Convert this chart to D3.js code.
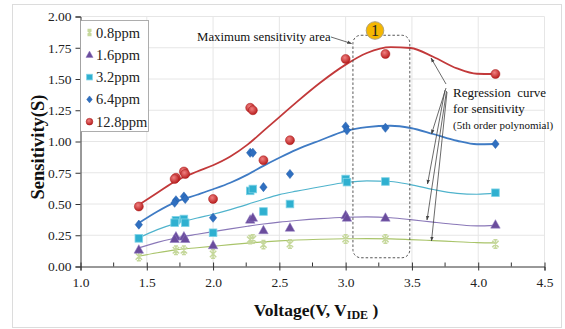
<!DOCTYPE html>
<html><head><meta charset="utf-8">
<script src="https://cdn.jsdelivr.net/npm/d3@7"></script>
<style>body{margin:0;background:#fff}svg{display:block}</style>
</head><body><svg id="c" width="565" height="329"></svg>
<script>
// ---- data ----
const seriesNames = ["0.8ppm","1.6ppm","3.2ppm","6.4ppm","12.8ppm"];
const voltage = [1.44, 1.72, 1.78, 2.0, 2.28, 2.30, 2.38, 2.58, 3.0, 3.3, 4.13];
const s08  = [0.08, 0.13, 0.13, 0.10, 0.215, 0.22, 0.175, 0.18, 0.22, 0.22, 0.18];
const s16  = [0.135, 0.24, 0.24, 0.17, 0.375, 0.39, 0.29, 0.31, 0.41, 0.39, 0.335];
const s32  = [0.225, 0.37, 0.38, 0.27, 0.605, 0.62, 0.44, 0.50, 0.70, 0.68, 0.59];
const s64  = [0.335, 0.53, 0.56, 0.39, 0.91, 0.91, 0.635, 0.74, 1.12, 1.11, 0.98];
const s128 = [0.48, 0.71, 0.76, 0.54, 1.27, 1.25, 0.85, 1.01, 1.66, 1.70, 1.54];
// repeated measurements (overlapping markers)
const voltageRep = [1.71, 1.79, 3.01];
const r08  = [null, null, null];
const r16  = [0.22, 0.22, 0.39];
const r32  = [0.35, 0.35, 0.675];
const r64  = [0.51, 0.54, 1.09];
const r128 = [0.70, 0.74, null];
// regression curves (5th order polynomial)
const fitV   = [1.44,1.58,1.72,1.88,2.0,2.13,2.26,2.38,2.5,2.63,2.81,3.0,3.16,3.34,3.49,3.66,3.84,3.99,4.13];
const fit08  = [0.082,0.11,0.133,0.15,0.162,0.175,0.187,0.197,0.205,0.212,0.218,0.222,0.223,0.221,0.215,0.207,0.198,0.191,0.189];
const fit16  = [0.149,0.193,0.228,0.258,0.279,0.301,0.322,0.34,0.355,0.368,0.383,0.394,0.397,0.39,0.375,0.355,0.336,0.325,0.329];
const fit32  = [0.229,0.295,0.345,0.388,0.418,0.455,0.497,0.538,0.575,0.603,0.638,0.672,0.685,0.68,0.655,0.616,0.585,0.578,0.587];
const fit64  = [0.348,0.44,0.517,0.574,0.618,0.67,0.735,0.805,0.87,0.935,1.01,1.085,1.115,1.126,1.108,1.06,1.006,0.978,0.98];
const fit128 = [0.494,0.59,0.685,0.76,0.81,0.88,0.975,1.085,1.195,1.315,1.472,1.615,1.708,1.755,1.748,1.678,1.585,1.542,1.54];
const xTicks = [1.0,1.5,2.0,2.5,3.0,3.5,4.0,4.5];
const yTicks = [0,0.25,0.5,0.75,1.0,1.25,1.5,1.75,2.0];

const FONT = "'Liberation Serif','Times New Roman','DejaVu Serif',serif";
const svg = d3.select("#c").attr("font-family",FONT);
const x = d3.scaleLinear().domain([1.0,4.5]).range([80.5,544.5]);
const y = d3.scaleLinear().domain([0,2]).range([266.5,16.5]);

const styles = [
  {name:seriesNames[0], vals:s08, rep:r08, fit:fit08, line:"#a9c46a", lw:1.1, fill:"#c6d89c", shape:"x"},
  {name:seriesNames[1], vals:s16, rep:r16, fit:fit16, line:"#8a78b8", lw:1.1, fill:"#6a4c9c", shape:"tri"},
  {name:seriesNames[2], vals:s32, rep:r32, fit:fit32, line:"#4fb3cc", lw:1.1, fill:"#2fb0d0", shape:"sq"},
  {name:seriesNames[3], vals:s64, rep:r64, fit:fit64, line:"#3f7bc4", lw:1.8, fill:"#2f6fc0", shape:"dia"},
  {name:seriesNames[4], vals:s128, rep:r128, fit:fit128, line:"#c2393a", lw:1.8, fill:"#d02a2a", shape:"circ"}
];

// outer frame
svg.append("rect").attr("x",12.5).attr("y",4.5).attr("width",549).attr("height",323)
  .attr("fill","none").attr("stroke","#dcdcdc");

const defs = svg.append("defs");
const gr = defs.append("radialGradient").attr("id","gRed").attr("cx","40%").attr("cy","35%").attr("r","65%");
gr.append("stop").attr("offset","0%").attr("stop-color","#f08080");
gr.append("stop").attr("offset","100%").attr("stop-color","#b81e1e");
defs.append("marker").attr("id","ah").attr("viewBox","0 0 10 10").attr("refX",9).attr("refY",5)
  .attr("markerWidth",6).attr("markerHeight",6).attr("orient","auto-start-reverse")
  .append("path").attr("d","M0,1.5 L10,5 L0,8.5 Z").attr("fill","#444");

// gridlines
const grid = svg.append("g");
grid.selectAll("line.h").data(yTicks.slice(1)).join("line")
  .attr("x1",x(1.0)).attr("x2",x(4.5)).attr("y1",d=>y(d)).attr("y2",d=>y(d))
  .attr("stroke","#e6e6e6");
grid.selectAll("line.v").data(xTicks.slice(1)).join("line")
  .attr("x1",d=>x(d)).attr("x2",d=>x(d)).attr("y1",y(0)).attr("y2",y(2))
  .attr("stroke","#e6e6e6");

// axes
const yAxis = d3.axisLeft(y).tickValues(yTicks).tickFormat(d3.format(".2f")).tickSize(5).tickPadding(4);
const gy = svg.append("g").attr("transform",`translate(${x(1.0)},0)`).call(yAxis);
const xAxis = d3.axisBottom(x).tickValues(xTicks).tickFormat(d3.format(".1f")).tickSize(4).tickPadding(7);
const gx = svg.append("g").attr("transform",`translate(0,${y(0)})`).call(xAxis);
gx.selectAll("line.minor").data(d3.range(1.25,4.5,0.5)).join("line").attr("class","minor")
  .attr("x1",d=>x(d)).attr("x2",d=>x(d)).attr("y1",0).attr("y2",-4).attr("stroke","#333");
gx.selectAll(".tick line").attr("y1",-4);
[gx,gy].forEach(g=>{
  g.attr("font-family",FONT).attr("font-size",13.5);
  g.select(".domain").attr("stroke","#333");
  g.selectAll(".tick line").attr("stroke","#333");
  g.selectAll("text").attr("fill","#222");
});

// regression curves
const lineGen = d3.line().x(d=>x(d[0])).y(d=>y(d[1])).curve(d3.curveMonotoneX);
styles.forEach(s=>{
  svg.append("path").datum(fitV.map((v,i)=>[v,s.fit[i]]))
    .attr("d",lineGen).attr("fill","none").attr("stroke",s.line).attr("stroke-width",s.lw);
});

// markers
function drawMarker(g, shape, cx, cy, s, scale){
  const k = scale||1;
  if(shape==="circ"){
    g.append("circle").attr("cx",cx).attr("cy",cy).attr("r",4.5*k).attr("fill","url(#gRed)").attr("stroke","#a81c1c").attr("stroke-width",0.5);
  } else if(shape==="dia"){
    const r=4.6*k;
    g.append("path").attr("d",`M${cx},${cy-r}L${cx+r*0.8},${cy}L${cx},${cy+r}L${cx-r*0.8},${cy}Z`).attr("fill",s.fill).attr("stroke","#1f5aa8").attr("stroke-width",0.5);
  } else if(shape==="sq"){
    const r=3.8*k;
    g.append("rect").attr("x",cx-r).attr("y",cy-r).attr("width",2*r).attr("height",2*r).attr("fill",s.fill).attr("stroke","#7fd3e6").attr("stroke-width",0.8);
  } else if(shape==="tri"){
    const r=5*k;
    g.append("path").attr("d",`M${cx},${cy-r}L${cx+r*0.95},${cy+r*0.7}L${cx-r*0.95},${cy+r*0.7}Z`).attr("fill",s.fill).attr("stroke","#8f78c0").attr("stroke-width",0.5);
  } else {
    const r=3.2*k;
    g.append("path").attr("d",`M${cx-r},${cy-r}L${cx+r},${cy+r}M${cx-r},${cy+r}L${cx+r},${cy-r}M${cx},${cy-r-1}L${cx},${cy+r+1}M${cx-2},${cy-r-1}L${cx+2},${cy-r-1}M${cx-2},${cy+r+1}L${cx+2},${cy+r+1}`)
      .attr("stroke",s.fill).attr("stroke-width",1.5).attr("fill","none");
  }
}
const mg = svg.append("g");
styles.forEach(s=>{
  voltage.forEach((v,i)=>{ if(s.vals[i]!=null) drawMarker(mg,s.shape,x(v),y(s.vals[i]),s); });
  voltageRep.forEach((v,i)=>{ if(s.rep[i]!=null) drawMarker(mg,s.shape,x(v),y(s.rep[i]),s); });
});

// legend
const lg = svg.append("g");
lg.append("rect").attr("x",80.5).attr("y",20.5).attr("width",68).attr("height",111)
  .attr("fill","#fff").attr("stroke","#9a9a9a").attr("stroke-width",0.8);
styles.forEach((s,i)=>{
  const cy = 32.5 + i*22.3;
  drawMarker(lg,s.shape,89.5,cy,s,s.shape==="x"?0.6:0.75);
  lg.append("text").attr("x",96).attr("y",cy+5).text(s.name).attr("font-size",14.5).attr("fill","#222");
});

// annotation: maximum sensitivity area
const ann = svg.append("g");
ann.append("text").attr("x",197).attr("y",41).text("Maximum sensitivity area").attr("font-size",12.8).attr("fill","#111");
ann.append("path").attr("d","M331,37 L351.5,43.5").attr("stroke","#444").attr("stroke-width",0.8).attr("fill","none").attr("marker-end","url(#ah)");
ann.append("rect").attr("x",x(3.055)).attr("y",y(1.85)).attr("width",x(3.484)-x(3.055)).attr("height",y(0.07)-y(1.85))
  .attr("rx",8).attr("ry",8).attr("fill","none").attr("stroke","#444").attr("stroke-width",0.9).attr("stroke-dasharray","2.5,2");
ann.append("circle").attr("cx",375).attr("cy",30.5).attr("r",8.8).attr("fill","#f5b700").attr("stroke","#b0a27a").attr("stroke-width",1);
ann.append("text").attr("x",375).attr("y",36).attr("text-anchor","middle").text("1").attr("font-size",16).attr("fill","#222");

// annotation: regression curve
ann.append("text").attr("x",453).attr("y",97).text("Regression\u2002curve").attr("font-size",13).attr("fill","#111");
ann.append("text").attr("x",453).attr("y",113).text("for sensitivity").attr("font-size",13).attr("fill","#111");
ann.append("text").attr("x",453).attr("y",129).text("(5th order polynomial)").attr("font-size",11).attr("fill","#111");
const arrows = [[446,84,431,58],[446,88,431.5,134],[445,90,427.5,184],[446.5,91,427,220],[447,92,431.5,241]];
arrows.forEach(a=>{
  ann.append("line").attr("x1",a[0]).attr("y1",a[1]).attr("x2",a[2]).attr("y2",a[3])
    .attr("stroke","#444").attr("stroke-width",0.8).attr("marker-end","url(#ah)");
});

// axis titles
const xt = svg.append("text").attr("x",316).attr("y",316).attr("text-anchor","middle")
  .attr("font-size",17.5).attr("font-weight","bold").attr("fill","#111");
xt.append("tspan").text("Voltage(V, V");
xt.append("tspan").text("IDE").attr("font-size",12).attr("dy",3);
xt.append("tspan").text(" )").attr("dy",-3);
svg.append("text").attr("transform","translate(44,147) rotate(-90)").attr("text-anchor","middle")
  .attr("font-size",18.5).attr("font-weight","bold").attr("fill","#111").text("Sensitivity(S)");
</script></body></html>
